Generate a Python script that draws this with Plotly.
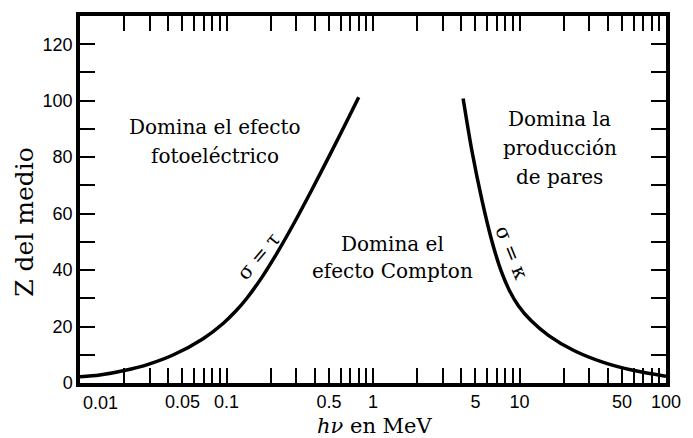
import plotly.graph_objects as go

# Boundary sigma = tau (photoelectric = Compton), energy in MeV vs Z
tau_energy = [0.010, 0.01363, 0.02007, 0.02955, 0.04351, 0.06922, 0.09436, 0.1154,
              0.1390, 0.1753, 0.2211, 0.2876, 0.3801, 0.5260, 0.6534, 0.7990]
tau_z = [2.2, 2.8, 4.4, 6.7, 10.0, 15.7, 21.0, 25.4,
         30.3, 37.6, 46.0, 56.4, 68.2, 82.4, 92.1, 101.2]

# Boundary sigma = kappa (Compton = pair production)
kappa_energy = [4.122, 4.739, 5.558, 6.469, 7.478, 8.547, 9.824, 11.98, 15.83,
                23.49, 37.37, 59.45, 100.0]
kappa_z = [100.8, 82.1, 64.5, 50.4, 39.8, 32.7, 27.4, 22.1, 16.8, 11.5, 7.3, 4.5, 2.4]

# Axis ticks
x_tick_values = [k * 10.0 ** e for e in range(-2, 2) for k in range(1, 10)] + [100.0]
x_tick_labels = {0.05: "0.05", 0.1: "0.1", 0.5: "0.5", 1.0: "1", 5.0: "5",
                 10.0: "10", 50.0: "50", 100.0: "100"}
y_tick_values = list(range(0, 130, 10))
y_tick_labels = [str(v) if v % 20 == 0 else "" for v in y_tick_values]

serif = "DejaVu Serif"
sans = "Liberation Sans, Arial, sans-serif"


def x_text(v):
    for key, txt in x_tick_labels.items():
        if abs(v - key) < 1e-9 * max(1.0, key):
            return txt
    return ""


fig = go.Figure()
fig.add_trace(go.Scatter(x=tau_energy, y=tau_z, mode="lines",
                         line=dict(color="black", width=3.5, shape="spline", smoothing=0.8),
                         hoverinfo="skip", showlegend=False))
fig.add_trace(go.Scatter(x=kappa_energy, y=kappa_z, mode="lines",
                         line=dict(color="black", width=3.5, shape="spline", smoothing=0.8),
                         hoverinfo="skip", showlegend=False))

axis_common = dict(showgrid=False, zeroline=False, showline=True, linecolor="black",
                   linewidth=3.5, mirror="ticks", ticks="inside", ticklen=15,
                   tickwidth=2, tickcolor="black",
                   tickfont=dict(family=sans, size=18, color="black"))

fig.update_xaxes(type="log", range=[-2, 2], tickmode="array",
                 tickvals=x_tick_values, ticktext=[x_text(v) for v in x_tick_values],
                 **axis_common)
fig.update_yaxes(range=[0, 130], tickmode="array", tickvals=y_tick_values,
                 ticktext=y_tick_labels, **axis_common)

annotations = [
    # lowest x tick label, set slightly right of the frame corner
    dict(x=-2, y=0, xref="x", yref="y", text="0.01", showarrow=False,
         xshift=20, yshift=-20, xanchor="center", yanchor="middle",
         font=dict(family=sans, size=18, color="black")),
    # axis titles
    dict(x=(380 - 80) / 595, y=(383 - 426) / 369, xref="paper", yref="paper",
         text="<i>hν</i> en MeV", showarrow=False,
         font=dict(family=serif, size=21, color="black")),
    dict(x=(24 - 80) / 595, y=(383 - 221) / 369, xref="paper", yref="paper",
         text="Z del medio", textangle=-90, showarrow=False,
         font=dict(family=serif, size=25, color="black")),
    # region labels
    dict(x=-1.079, y=90.6, text="Domina el efecto"),
    dict(x=-1.079, y=80.3, text="fotoeléctrico"),
    dict(x=0.135, y=49.3, text="Domina el"),
    dict(x=0.135, y=39.8, text="efecto Compton"),
    dict(x=1.274, y=93.4, text="Domina la"),
    dict(x=1.274, y=83.2, text="producción"),
    dict(x=1.274, y=72.9, text="de pares"),
    # curve labels
    dict(x=(261 - 80) / 148.75 - 2, y=(382.7 - 255) / 2.833, text="σ = τ", textangle=-50),
    dict(x=(519 - 80) / 148.75 - 2, y=(382.7 - 252) / 2.833, text="σ = κ", textangle=68),
]
for a in annotations:
    a.setdefault("xref", "x")
    a.setdefault("yref", "y")
    a.setdefault("showarrow", False)
    a.setdefault("xanchor", "center")
    a.setdefault("yanchor", "middle")
    a.setdefault("font", dict(family=serif, size=20, color="black"))
fig.update_layout(annotations=annotations)

fig.update_layout(width=693, height=438, margin=dict(l=80, r=18, t=14, b=55),
                  paper_bgcolor="white", plot_bgcolor="white")

fig.write_html("out.html")
